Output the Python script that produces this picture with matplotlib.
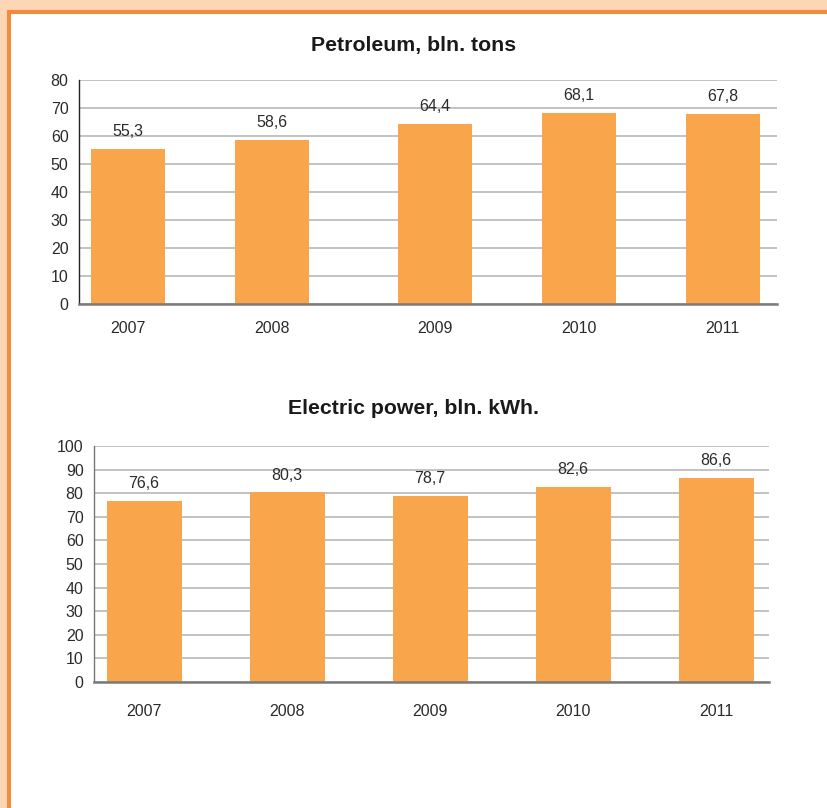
import matplotlib
matplotlib.use("Agg")
import matplotlib.pyplot as plt
from matplotlib.patches import Rectangle
import numpy as np

plt.rcParams['font.family'] = ['Liberation Sans', 'DejaVu Sans']

years = ["2007", "2008", "2009", "2010", "2011"]
petroleum = [55.3, 58.6, 64.4, 68.1, 67.8]
electric = [76.6, 80.3, 78.7, 82.6, 86.6]
petroleum_ticks = list(range(0, 81, 10))
electric_ticks = list(range(0, 101, 10))

W, H = 828, 808
BAR = '#F8A54B'
TXT = '#2b2b2b'

fig = plt.figure(figsize=(W / 100, H / 100), dpi=100)
fig.patch.set_facecolor('#FDD6B5')
# white panel with orange frame
fig.patches.append(Rectangle((9 / W, -0.1), 1.2, (H - 12.5) / H + 0.1,
                             transform=fig.transFigure, facecolor='white',
                             edgecolor='#F58A3C', linewidth=2.9, zorder=-10))


def px_axes(l, t, r, b):
    ax = fig.add_axes([l / W, 1 - b / H, (r - l) / W, (b - t) / H])
    ax.set_zorder(5)
    return ax


def draw(ax, values, ticks, ymax, pos, xlim, bar_w, title, title_y, spine_left,
         year_pad):
    ax.set_facecolor('none')
    ax.bar(pos, values, width=bar_w, color=BAR, zorder=2)
    ax.set_ylim(0, ymax)
    ax.set_xlim(*xlim)
    ax.set_yticks(ticks)
    ax.set_yticklabels([str(t) for t in ticks], fontsize=11.5, color=TXT)
    ax.set_xticks(pos)
    ax.set_xticklabels(years, fontsize=11.5, color=TXT)
    ax.tick_params(axis='both', length=0)
    ax.tick_params(axis='y', pad=7.5)
    ax.tick_params(axis='x', pad=year_pad)
    ax.grid(axis='y', color='#bdbdbd', linewidth=1.3, zorder=1)
    ax.set_axisbelow(True)
    for s in ['top', 'right']:
        ax.spines[s].set_visible(False)
    ax.spines['left'].set_color(spine_left)
    ax.spines['left'].set_linewidth(1.0)
    ax.spines['bottom'].set_color('#7a7a7a')
    ax.spines['bottom'].set_linewidth(1.8)
    for x, v in zip(pos, values):
        ax.annotate(f"{v:.1f}".replace('.', ','), (x, v), xytext=(0, 12.5),
                    textcoords='offset points', ha='center', va='center',
                    fontsize=11.5, color=TXT)
    fig.text(0.5, 1 - title_y / H, title, ha='center', va='center',
             fontsize=15.3, fontweight='bold', color='#1a1a1a', zorder=6)


# Petroleum
ax1 = px_axes(79, 80, 777, 304)
pos1 = np.arange(len(years)) + np.array([0, 0, 0.13, 0.13, 0.13])
draw(ax1, petroleum, petroleum_ticks, 80, pos1, (-0.34, -0.34 + 698 / 144),
     0.515, "Petroleum, bln. tons", 46, '#222222', 12.5)

# Electric power
ax2 = px_axes(94, 446, 769, 682)
pos2 = np.arange(len(years))
draw(ax2, electric, electric_ticks, 100, pos2, (-0.35, -0.35 + 675 / 143),
     0.525, "Electric power, bln. kWh.", 408, '#777777', 15.5)

fig.savefig("out.png", dpi=100, facecolor=fig.get_facecolor())
